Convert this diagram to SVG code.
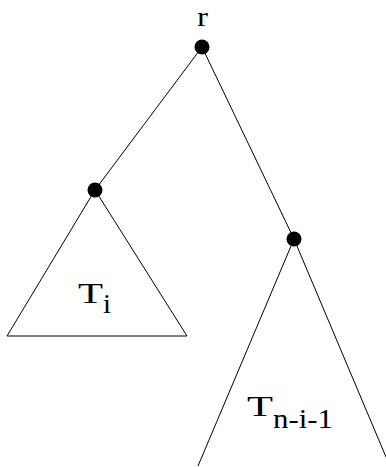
<svg xmlns="http://www.w3.org/2000/svg" width="386" height="467" viewBox="0 0 386 467">
<style>
.e{stroke:#000;stroke-width:1;fill:none}
.n{fill:#000}
.t{font-family:"Liberation Serif","Times New Roman",serif;fill:#000}
</style>
<rect width="386" height="467" fill="#fff"/>
<g id="connectors">
<line class="e" x1="202" y1="47" x2="95" y2="190"/>
<line class="e" x1="202" y1="47" x2="294" y2="239"/>
<polygon class="e" points="95,190 7,336 187,336"/>
<line class="e" x1="294" y1="239" x2="198" y2="466"/>
<line class="e" x1="294" y1="239" x2="386" y2="457"/>
</g>
<g id="r">
<circle class="n" cx="202" cy="47" r="7.5"/>
<text class="t" x="197" y="26" font-size="28" textLength="11" lengthAdjust="spacingAndGlyphs">r</text>
</g>
<g id="ti-root">
<circle class="n" cx="95" cy="190" r="7.5"/>
</g>
<g id="tn-root">
<circle class="n" cx="294" cy="239" r="7.5"/>
</g>
<g id="Ti">
<text class="t" x="78" y="303" font-size="30" textLength="25" lengthAdjust="spacingAndGlyphs">T</text>
<text class="t" x="103" y="313" font-size="27" textLength="8" lengthAdjust="spacingAndGlyphs">i</text>
</g>
<g id="Tn">
<text class="t" x="247" y="416" font-size="30" textLength="26" lengthAdjust="spacingAndGlyphs">T</text>
<text class="t" x="273" y="428" font-size="27" textLength="60" lengthAdjust="spacingAndGlyphs">n-i-1</text>
</g>
</svg>
